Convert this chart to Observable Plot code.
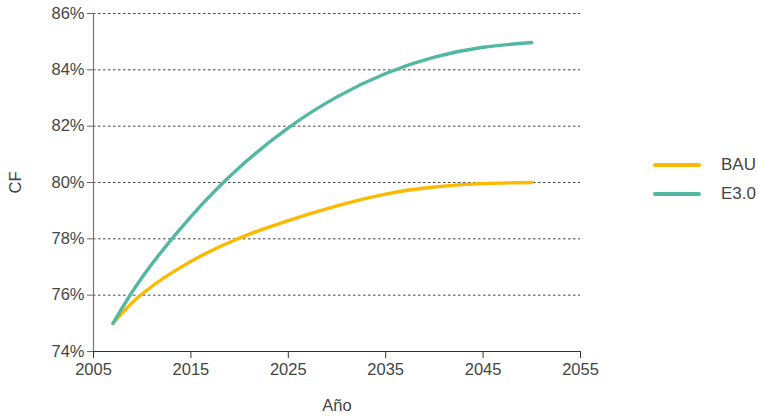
<!DOCTYPE html>
<html><head><meta charset="utf-8">
<script src="https://cdn.jsdelivr.net/npm/d3@7"></script>
<script src="https://cdn.jsdelivr.net/npm/@observablehq/plot@0.6"></script>
<style>
body{margin:0;background:#fff;font-family:"Liberation Sans",Arial,sans-serif;}
#wrap{position:relative;width:758px;height:416px;}
.leg{position:absolute;left:653px;display:flex;align-items:center;font-size:17px;color:#444;}
.leg span.sw{display:inline-block;width:48px;height:4px;border-radius:2px;margin-right:20px;}
</style></head>
<body><div id="wrap"></div>
<script>
const years = [2007,2010,2015,2020,2025,2030,2035,2040,2045,2050];
const bau  = [75.0,76.05,77.2,78.03,78.65,79.17,79.59,79.84,79.96,80.0];
const e30  = [75.0,76.64,78.79,80.54,81.94,83.04,83.87,84.45,84.8,84.97];
const series = ["BAU","E3.0"];
const colors = ["#FBB900","#52B7A3"];
const xTicks = [2005,2015,2025,2035,2045,2055];
const yTicks = [74,76,78,80,82,84,86];

const data = [];
years.forEach((y,i)=>{ data.push({year:y, cf:bau[i], s:"BAU"}); data.push({year:y, cf:e30[i], s:"E3.0"}); });

const chart = Plot.plot({
  width:758, height:416,
  marginLeft:93, marginRight:178, marginTop:13, marginBottom:65,
  style:{fontFamily:"Liberation Sans, Arial, sans-serif", fontSize:"16.5px", color:"#444", background:"#fff"},
  x:{domain:[2005,2055]},
  y:{domain:[74,86]},
  color:{domain:series, range:colors},
  marks:[
    Plot.gridY(yTicks.filter(d=>d>74), {stroke:"#444", strokeOpacity:1, strokeDasharray:"2.5,2.5", strokeWidth:1}),
    Plot.axisY({ticks:yTicks, tickFormat:d=>d+"%", tickSize:6, tickPadding:3, stroke:"#666", label:"CF", labelAnchor:"center", labelArrow:"none", labelOffset:84, fontSize:16.5}),
    Plot.axisX({ticks:xTicks, tickFormat:d=>String(d), tickSize:7, tickPadding:5, stroke:"#333", label:"Año", labelAnchor:"center", labelArrow:"none", labelOffset:59, fontSize:16.5}),
    Plot.ruleX([2005], {stroke:"#777", strokeWidth:1.2}),
    Plot.ruleY([74], {stroke:"#333", strokeWidth:1.2}),
    Plot.line(data, {x:"year", y:"cf", z:"s", stroke:"s", strokeWidth:3.4, curve:"natural", strokeLinecap:"round"})
  ]
});
const wrap = document.getElementById("wrap");
wrap.appendChild(chart);
series.forEach((s,i)=>{
  const d = document.createElement("div");
  d.className="leg";
  d.style.top = (155 + i*29) + "px";
  d.innerHTML = `<span class="sw" style="background:${colors[i]}"></span><span>${s}</span>`;
  wrap.appendChild(d);
});
</script></body></html>
